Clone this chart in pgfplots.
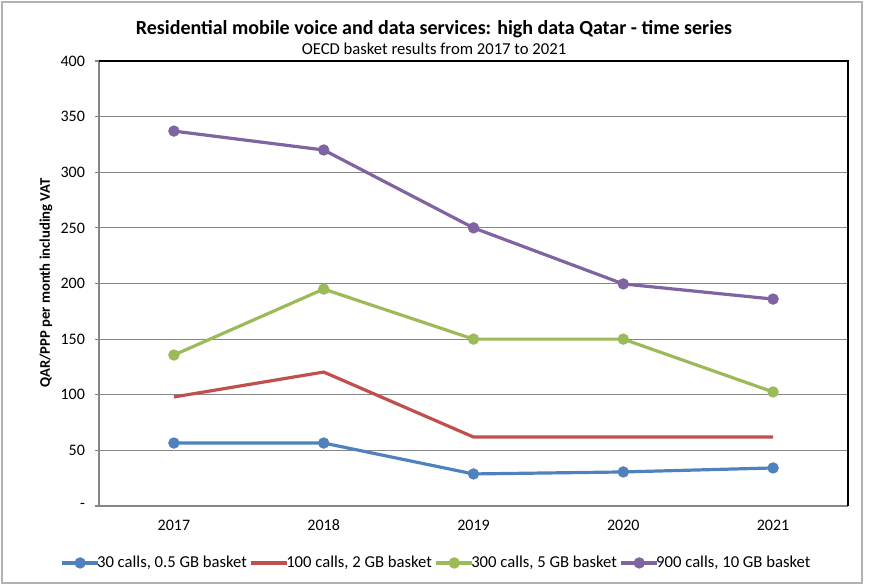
\documentclass[border=0pt]{standalone}
\usepackage{pgfplots}
\pgfplotsset{compat=1.18}
\usepackage{fontspec}
\setmainfont{Carlito}
\definecolor{sblue}{HTML}{4F81BD}
\definecolor{sred}{HTML}{C0504D}
\definecolor{sgreen}{HTML}{9BBB59}
\definecolor{spurple}{HTML}{8064A2}
\definecolor{gridgray}{HTML}{868686}
\begin{document}
\begin{tikzpicture}
\path[use as bounding box] (0pt,0pt) rectangle (651.75pt,438.75pt);
\draw[gray!60, line width=1.2pt] (1.5pt,1.5pt) rectangle (646.5pt,437.25pt);
\node[font=\bfseries\fontsize{15}{17}\selectfont] at (325.5pt,417pt) {Residential mobile voice and data services: high data Qatar - time series};
\node[font=\fontsize{12.5}{14}\selectfont] at (325.5pt,402.5pt) {OECD basket results from 2017 to 2021};
\node[font=\bfseries\fontsize{11}{13}\selectfont, rotate=90] at (34.5pt,226.5pt) {QAR/PPP per month including VAT};
\begin{axis}[
    at={(74.25pt,59.25pt)}, anchor=south west,
    scale only axis,
    width=561.75pt, height=333.75pt,
    xmin=-0.5, xmax=4.5,
    ymin=0, ymax=400,
    xtick={0,1,2,3,4},
    xticklabels={2017,2018,2019,2020,2021},
    major x tick style={draw=none},
    extra x ticks={-0.5,0.5,1.5,2.5,3.5,4.5},
    extra x tick labels={},
    extra x tick style={grid=none, major tick length=4pt, tick style={draw=gridgray, line width=0.8pt}},
    ytick={0,50,100,150,200,250,300,350,400},
    yticklabels={-,50,100,150,200,250,300,350,400},
    tick align=outside,
    major tick length=3pt,
    ytick style={draw=gridgray, line width=0.8pt},
    ymajorgrids,
    grid style={gridgray, line width=0.9pt},
    axis line style={draw=gridgray, line width=0.9pt},
    separate axis lines,
    axis x line*=bottom, axis y line*=left,
    tick label style={font=\fontsize{12}{14}\selectfont},
    /pgf/number format/assume math mode=true,
    xticklabel style={yshift=-4pt},
    yticklabel style={xshift=-4pt},
    clip=false,
    legend columns=4,
    legend style={at={(0.451,-0.128)}, anchor=center, draw=none, font=\fontsize{12.5}{14}\selectfont,
        /tikz/every even column/.append style={column sep=0pt},
        /tikz/every odd column/.append style={column sep=-4pt}},
    legend image code/.code={
        \draw[#1] (-0.1cm,0cm) -- (0.85cm,0cm);
        \draw[#1, mark repeat=1] plot coordinates {(0.375cm,0cm)};
    },
    every axis plot/.append style={line width=2.4pt, mark size=3pt},
]
\addplot[sblue, mark=*] coordinates {(0,56.6) (1,56.6) (2,28.8) (3,30.6) (4,34.2)};
\addlegendentry{30 calls, 0.5 GB basket}
\addplot[sred, no marks] coordinates {(0,98) (1,120.4) (2,62) (3,62) (4,62)};
\addlegendentry{100 calls, 2 GB basket}
\addplot[sgreen, mark=*] coordinates {(0,135.7) (1,195) (2,150) (3,150) (4,102.5)};
\addlegendentry{300 calls, 5 GB basket}
\addplot[spurple, mark=*] coordinates {(0,337) (1,320) (2,250) (3,199.6) (4,186)};
\addlegendentry{900 calls, 10 GB basket}
\draw[black, line width=1pt] (rel axis cs:0,1) -- (rel axis cs:1,1) -- (rel axis cs:1,0);
\end{axis}
\end{tikzpicture}
\end{document}
